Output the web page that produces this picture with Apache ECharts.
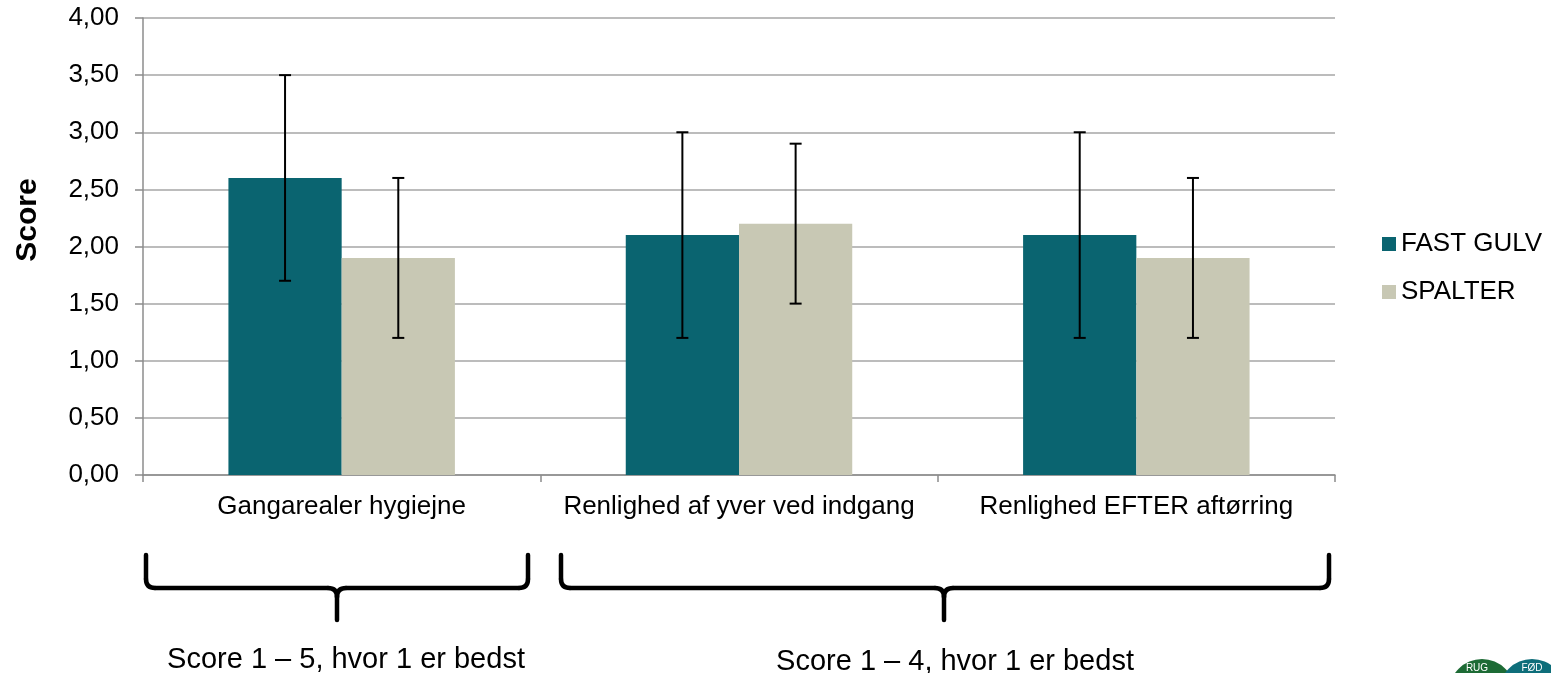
<!DOCTYPE html>
<html>
<head>
<meta charset="utf-8">
<script src="https://cdn.jsdelivr.net/npm/echarts@6/dist/echarts.min.js"></script>
<style>
  html, body { margin: 0; padding: 0; background: #fff; }
  #chart { width: 1551px; height: 673px; }
</style>
</head>
<body>
<div id="chart"></div>
<script>
const categories = ['Gangarealer hygiejne', 'Renlighed af yver ved indgang', 'Renlighed EFTER aftørring'];
const fastGulv = [2.6, 2.1, 2.1];
const fastLow = [1.7, 1.2, 1.2];
const fastHigh = [3.5, 3.0, 3.0];
const spalter = [1.9, 2.2, 1.9];
const spalterLow = [1.2, 1.5, 1.2];
const spalterHigh = [2.6, 2.9, 2.6];

const font = 'Liberation Sans, Arial, sans-serif';
const catGap = 0.43;

// error bar for series no. `slot` (0 = left bar, 1 = right bar)
function errorBar(slot) {
    return function (params, api) {
        const idx = api.value(0);
        const lo = api.coord([idx, api.value(1)]);
        const hi = api.coord([idx, api.value(2)]);
        const bw = api.size([1, 0])[0] * (1 - catGap) / 2;
        const x = lo[0] + (slot === 0 ? -bw / 2 : bw / 2);
        const cap = 6;
        const style = { stroke: '#000', lineWidth: 2 };
        return {
            type: 'group',
            children: [
                { type: 'line', shape: { x1: x, y1: lo[1], x2: x, y2: hi[1] }, style: style },
                { type: 'line', shape: { x1: x - cap, y1: lo[1], x2: x + cap, y2: lo[1] }, style: style },
                { type: 'line', shape: { x1: x - cap, y1: hi[1], x2: x + cap, y2: hi[1] }, style: style }
            ]
        };
    };
}

// curly brace under the axis, built from lines and quadratic curves
function brace(x1, x2, xm, top, mid, bottom) {
    const r = 9;
    const st = { stroke: '#000', lineWidth: 4.5, fill: null, lineCap: 'round' };
    const seg = (a, b, c, d) => ({ type: 'line', shape: { x1: a, y1: b, x2: c, y2: d }, style: st });
    const curve = (a, b, cx, cy, c, d) => ({
        type: 'bezierCurve',
        shape: { x1: a, y1: b, cpx1: cx, cpy1: cy, x2: c, y2: d },
        style: st
    });
    return {
        type: 'group',
        children: [
            seg(x1, top, x1, mid - r),
            curve(x1, mid - r, x1, mid, x1 + r, mid),
            seg(x1 + r, mid, xm - r, mid),
            curve(xm - r, mid, xm, mid, xm, mid + r),
            seg(xm, mid + r, xm, bottom),
            curve(xm, mid + r, xm, mid, xm + r, mid),
            seg(xm + r, mid, x2 - r, mid),
            curve(x2 - r, mid, x2, mid, x2, mid - r),
            seg(x2, mid - r, x2, top)
        ]
    };
}

const chart = echarts.init(document.getElementById('chart'));
const option = {
    animation: false,
    textStyle: { fontFamily: font },
    grid: { left: 143, right: 216, top: 18, bottom: 198 },
    legend: {
        orient: 'vertical',
        left: 1377,
        top: 226,
        itemWidth: 14,
        itemHeight: 14,
        itemGap: 22,
        icon: 'rect',
        textStyle: { fontSize: 26, color: '#000', fontFamily: font },
        data: ['FAST GULV', 'SPALTER']
    },
    xAxis: {
        type: 'category',
        data: categories,
        axisLine: { lineStyle: { color: '#8c8c8c', width: 1.5 } },
        axisTick: { show: true, length: 7, lineStyle: { color: '#8c8c8c', width: 1.5 } },
        axisLabel: { fontSize: 26, color: '#000', margin: 19, interval: 0, hideOverlap: false }
    },
    yAxis: {
        type: 'value',
        min: 0,
        max: 4,
        interval: 0.5,
        axisLine: { show: true, lineStyle: { color: '#8c8c8c', width: 1.5 } },
        axisTick: { show: true, length: 8, lineStyle: { color: '#8c8c8c', width: 1.5 } },
        splitLine: { lineStyle: { color: '#a6a6a6', width: 1.5 } },
        axisLabel: {
            fontSize: 26,
            color: '#000',
            margin: 24,
            formatter: v => v.toFixed(2).replace('.', ',')
        }
    },
    series: [
        {
            name: 'FAST GULV',
            type: 'bar',
            data: fastGulv,
            barGap: '0%',
            barCategoryGap: (catGap * 100) + '%',
            itemStyle: { color: '#0a6470' }
        },
        {
            name: 'SPALTER',
            type: 'bar',
            data: spalter,
            barGap: '0%',
            barCategoryGap: (catGap * 100) + '%',
            itemStyle: { color: '#c8c8b4' }
        },
        {
            type: 'custom',
            renderItem: errorBar(0),
            data: categories.map((c, i) => [i, fastLow[i], fastHigh[i]]),
            z: 10
        },
        {
            type: 'custom',
            renderItem: errorBar(1),
            data: categories.map((c, i) => [i, spalterLow[i], spalterHigh[i]]),
            z: 10
        }
    ],
    graphic: [
        {
            type: 'text',
            x: 28,
            y: 220,
            rotation: Math.PI / 2,
            style: {
                text: 'Score',
                fontSize: 30,
                fontWeight: 'bold',
                fill: '#000',
                fontFamily: font,
                align: 'center',
                verticalAlign: 'middle'
            }
        },
        brace(146, 528, 337, 555, 588, 620),
        brace(561, 1329, 944, 555, 588, 620),
        {
            type: 'text',
            x: 346,
            y: 660,
            style: {
                text: 'Score 1 – 5, hvor 1 er bedst',
                fontSize: 29,
                fill: '#000',
                fontFamily: font,
                align: 'center',
                verticalAlign: 'middle'
            }
        },
        {
            type: 'text',
            x: 955,
            y: 662,
            style: {
                text: 'Score 1 – 4, hvor 1 er bedst',
                fontSize: 29,
                fill: '#000',
                fontFamily: font,
                align: 'center',
                verticalAlign: 'middle'
            }
        },
        // logo peeking in at the bottom right corner
        {
            type: 'circle',
            shape: { cx: 1482, cy: 692, r: 33 },
            style: { fill: '#1d6b35' }
        },
        {
            type: 'circle',
            shape: { cx: 1532, cy: 692, r: 33 },
            style: { fill: '#0e6e7a' }
        },
        {
            type: 'text',
            x: 1477,
            y: 668,
            style: { text: 'RUG', fontSize: 10, fill: '#fff', fontFamily: font, align: 'center', verticalAlign: 'middle' }
        },
        {
            type: 'text',
            x: 1532,
            y: 668,
            style: { text: 'FØD', fontSize: 10, fill: '#fff', fontFamily: font, align: 'center', verticalAlign: 'middle' }
        }
    ]
};
chart.setOption(option);
</script>
</body>
</html>
